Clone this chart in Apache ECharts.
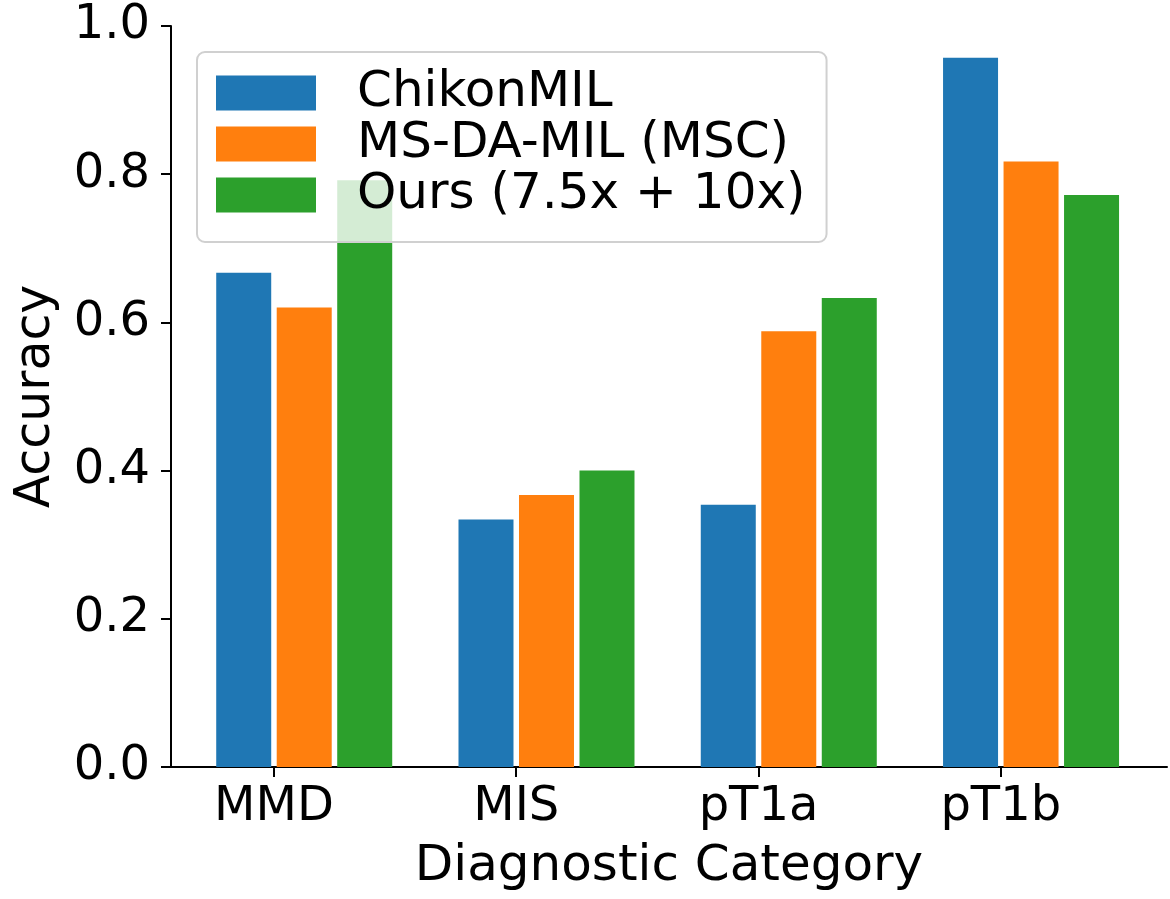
<!DOCTYPE html>
<html>
<head>
<meta charset="utf-8">
<script src="https://cdn.jsdelivr.net/npm/echarts@6/dist/echarts.min.js"></script>
<style>
html,body{margin:0;padding:0;background:#fff;}
#c{width:1170px;height:899px;}
</style>
</head>
<body>
<div id="c"></div>
<script>
// Data
const categories = ['MMD', 'MIS', 'pT1a', 'pT1b'];
const seriesNames = ['ChikonMIL', 'MS-DA-MIL (MSC)', 'Ours (7.5x + 10x)'];
const chikonMIL = [0.667, 0.334, 0.354, 0.957];
const msdaMIL = [0.620, 0.367, 0.588, 0.817];
const ours = [0.792, 0.400, 0.633, 0.772];

const colors = ['#1f77b4', '#ff7f0e', '#2ca02c'];
const FONT = 'DejaVu Sans';

function pairs(vals) { return vals.map((v, i) => [i, v]); }

const chart = echarts.init(document.getElementById('c'), null, { renderer: 'canvas' });

const barCommon = { type: 'bar', barWidth: 55, barGap: '10%' };

chart.setOption({
  animation: false,
  backgroundColor: '#fff',
  textStyle: { fontFamily: FONT },
  grid: { left: 171, right: 3, top: 26, bottom: 132, containLabel: false, outerBoundsMode: 'none' },
  legend: {
    data: seriesNames,
    orient: 'vertical',
    left: 197,
    top: 52,
    icon: 'rect',
    itemWidth: 100,
    itemHeight: 35,
    itemGap: 1,
    padding: [16, 21, 22, 19],
    backgroundColor: 'rgba(255,255,255,0.8)',
    borderColor: '#d0d0d0',
    borderWidth: 2,
    borderRadius: 8,
    selectedMode: false,
    textStyle: { fontFamily: FONT, fontSize: 50, color: '#000', padding: [0, 0, 0, 36] }
  },
  xAxis: {
    type: 'value',
    min: -0.425,
    max: 3.686,
    splitLine: { show: false },
    axisLine: { show: true, onZero: false, lineStyle: { color: '#000', width: 2 } },
    axisTick: { show: true, length: 10, lineStyle: { color: '#000', width: 2 }, customValues: categories.map((c, i) => i) },
    axisLabel: {
      customValues: categories.map((c, i) => i),
      formatter: v => categories[Math.round(v)] || '',
      fontFamily: FONT, fontSize: 48, color: '#000', margin: 17
    },
    name: 'Diagnostic Category',
    nameLocation: 'middle',
    nameGap: 75,
    nameTextStyle: { fontFamily: FONT, fontSize: 50, color: '#000' }
  },
  yAxis: {
    type: 'value',
    min: 0,
    max: 1,
    interval: 0.2,
    splitLine: { show: false },
    axisLine: { show: true, onZero: false, lineStyle: { color: '#000', width: 2 } },
    axisTick: { show: true, length: 10, lineStyle: { color: '#000', width: 2 } },
    axisLabel: { formatter: v => v.toFixed(1), fontFamily: FONT, fontSize: 48, color: '#000', margin: 21 },
    name: 'Accuracy',
    nameLocation: 'middle',
    nameGap: 110,
    nameTextStyle: { fontFamily: FONT, fontSize: 49, color: '#000' }
  },
  series: [
    Object.assign({ name: 'slot', data: [], itemStyle: { color: 'rgba(0,0,0,0)' } }, barCommon),
    Object.assign({ name: seriesNames[0], data: pairs(chikonMIL), itemStyle: { color: colors[0] } }, barCommon),
    Object.assign({ name: seriesNames[1], data: pairs(msdaMIL), itemStyle: { color: colors[1] } }, barCommon),
    Object.assign({ name: seriesNames[2], data: pairs(ours), itemStyle: { color: colors[2] } }, barCommon)
  ]
});
</script>
</body>
</html>
